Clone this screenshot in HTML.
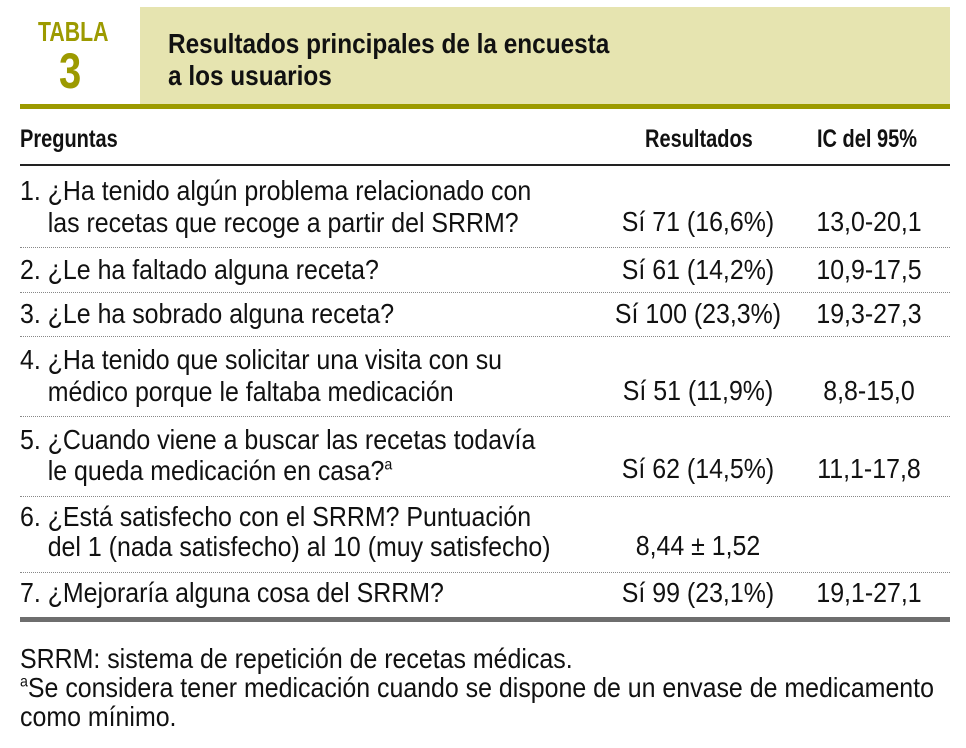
<!DOCTYPE html>
<html><head><meta charset="utf-8">
<style>
body{margin:0;width:966px;height:748px;background:#fff;position:relative;overflow:hidden;font-family:"Liberation Sans Narrow","Liberation Sans",sans-serif;color:#111}
.a{position:absolute;white-space:nowrap;line-height:30px;transform-origin:left center}
.t{font-size:28px;transform:scaleX(0.89)}
.b{font-weight:bold;font-size:25px;transform:scaleX(0.8)}
.sep{position:absolute;left:20px;width:930px;height:0;border-top:1px dotted #888}
.c{text-align:center;transform-origin:center center}
</style></head><body>
<div style="position:absolute;left:140px;top:7px;width:810px;height:100px;background:#e6e4b0"></div>
<div style="position:absolute;left:20px;top:104px;width:930px;height:5px;background:#9c9a00"></div>
<div class="a" style="left:38px;top:17px;font-size:28px;font-weight:bold;color:#9c9a00;transform:scaleX(0.76)">TABLA</div>
<div class="a" style="left:59px;top:46px;font-size:50px;line-height:50px;font-weight:bold;color:#9c9a00;transform:scaleX(0.8)">3</div>
<div class="a" style="left:168px;top:28px;line-height:32px;font-size:28px;font-weight:bold;transform:scaleX(0.87)">Resultados principales de la encuesta<br>a los usuarios</div>

<div class="a b" style="left:20px;top:124px">Preguntas</div>
<div class="a b" style="left:645px;top:124px">Resultados</div>
<div class="a b" style="left:817px;top:124px">IC del 95%</div>
<div style="position:absolute;left:20px;top:164px;width:930px;height:2px;background:#222"></div>

<div class="a t" style="left:20px;top:175px;line-height:32px">1. ¿Ha tenido algún problema relacionado con<br>&nbsp;&nbsp;&nbsp;&nbsp;las recetas que recoge a partir del SRRM?</div>
<div class="a t c" style="left:600px;width:196px;top:207px">Sí 71 (16,6%)</div>
<div class="a t c" style="left:800px;width:138px;top:207px">13,0-20,1</div>
<div class="sep" style="top:247px"></div>

<div class="a t" style="left:20px;top:255px">2. ¿Le ha faltado alguna receta?</div>
<div class="a t c" style="left:600px;width:196px;top:255px">Sí 61 (14,2%)</div>
<div class="a t c" style="left:800px;width:138px;top:255px">10,9-17,5</div>
<div class="sep" style="top:292px"></div>

<div class="a t" style="left:20px;top:299px">3. ¿Le ha sobrado alguna receta?</div>
<div class="a t c" style="left:600px;width:196px;top:299px">Sí 100 (23,3%)</div>
<div class="a t c" style="left:800px;width:138px;top:299px">19,3-27,3</div>
<div class="sep" style="top:336px"></div>

<div class="a t" style="left:20px;top:344px;line-height:32px">4. ¿Ha tenido que solicitar una visita con su<br>&nbsp;&nbsp;&nbsp;&nbsp;médico porque le faltaba medicación</div>
<div class="a t c" style="left:600px;width:196px;top:376px">Sí 51 (11,9%)</div>
<div class="a t c" style="left:800px;width:138px;top:376px">8,8-15,0</div>
<div class="sep" style="top:416px"></div>

<div class="a t" style="left:20px;top:424px;line-height:31px">5. ¿Cuando viene a buscar las recetas todavía<br>&nbsp;&nbsp;&nbsp;&nbsp;le queda medicación en casa?<sup style="font-size:16px;line-height:0">a</sup></div>
<div class="a t c" style="left:600px;width:196px;top:454px">Sí 62 (14,5%)</div>
<div class="a t c" style="left:800px;width:138px;top:454px">11,1-17,8</div>
<div class="sep" style="top:496px"></div>

<div class="a t" style="left:20px;top:502px;line-height:30px">6. ¿Está satisfecho con el SRRM? Puntuación<br>&nbsp;&nbsp;&nbsp;&nbsp;del 1 (nada satisfecho) al 10 (muy satisfecho)</div>
<div class="a t c" style="left:600px;width:196px;top:531px">8,44 ± 1,52</div>
<div class="sep" style="top:572px"></div>

<div class="a t" style="left:20px;top:578px">7. ¿Mejoraría alguna cosa del SRRM?</div>
<div class="a t c" style="left:600px;width:196px;top:578px">Sí 99 (23,1%)</div>
<div class="a t c" style="left:800px;width:138px;top:578px">19,1-27,1</div>
<div style="position:absolute;left:20px;top:617px;width:930px;height:5px;background:#6e6e6e"></div>

<div class="a t" style="left:20px;top:644px;line-height:29px">SRRM: sistema de repetición de recetas médicas.<br><sup style="font-size:16px;line-height:0">a</sup>Se considera tener medicación cuando se dispone de un envase de medicamento<br>como mínimo.</div>
</body></html>
